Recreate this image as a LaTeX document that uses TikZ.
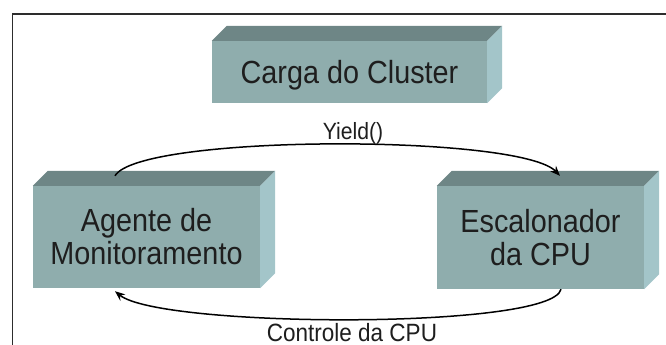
\documentclass[tikz,border=0pt]{standalone}
\usepackage{fontspec}
\setmainfont{Liberation Sans}
\newfontfamily\boxfont[FakeStretch=0.9]{Liberation Sans}
\usetikzlibrary{arrows.meta}
\definecolor{frontc}{RGB}{143,173,173}
\definecolor{topc}{RGB}{110,134,134}
\definecolor{sidec}{RGB}{163,197,201}
\definecolor{txtc}{RGB}{30,30,30}
\definecolor{framec}{RGB}{45,45,45}
\tikzset{
  slab/.style={fill=frontc, inner sep=0pt, align=center, text=txtc,
    font=\boxfont\fontsize{32}{33}\selectfont},
  lbl/.style={inner sep=0pt, anchor=base, text=txtc},
  conn/.style={line width=1.5pt, black, -{Stealth[length=10pt,width=8pt]}},
}
\begin{document}
\begin{tikzpicture}[x=1pt,y=-1pt]
\useasboundingbox (0,0) rectangle (666,345);
\draw[framec, line width=1.7pt] (12.5,350) -- (12.5,14) -- (672,14);

\node[slab, minimum width=275pt, minimum height=62pt, text depth=0pt] (carga) at (349.5,72) {Carga do Cluster};
\node[slab, minimum width=227pt, minimum height=102pt] (agente) at (146.5,237) {Agente de\\Monitoramento};
\node[slab, minimum width=207pt, minimum height=103pt] (escal) at (540.5,237.5) {Escalonador\\da CPU};

\foreach \n in {carga,agente,escal}{
  \fill[topc] (\n.north west) -- ++(15,-15) -- ([shift={(15,-15)}]\n.north east) -- (\n.north east) -- cycle;
  \fill[sidec] (\n.north east) -- ++(15,-15) -- ([shift={(15,-15)}]\n.south east) -- (\n.south east) -- cycle;
}

\coordinate (ys) at ([shift={(-31.5,-10)}]agente.north);
\coordinate (ye) at ([shift={(19.5,-10)}]escal.north);
\coordinate (cs) at ([shift={(20.5,0)}]escal.south);
\coordinate (ce) at ([shift={(-31.5,3)}]agente.south);

\draw[conn] (ys) .. controls (140,134) and (520,134) .. (ye);
\draw[conn] (cs) .. controls (552,330) and (160,328) .. (ce);

\node[lbl, font=\boxfont\fontsize{23.5}{25}\selectfont] (yl) at (353,139) {Yield()};
\node[lbl, font=\boxfont\fontsize{25}{27}\selectfont] (cl) at (352,341) {Controle da CPU};
\end{tikzpicture}
\end{document}
